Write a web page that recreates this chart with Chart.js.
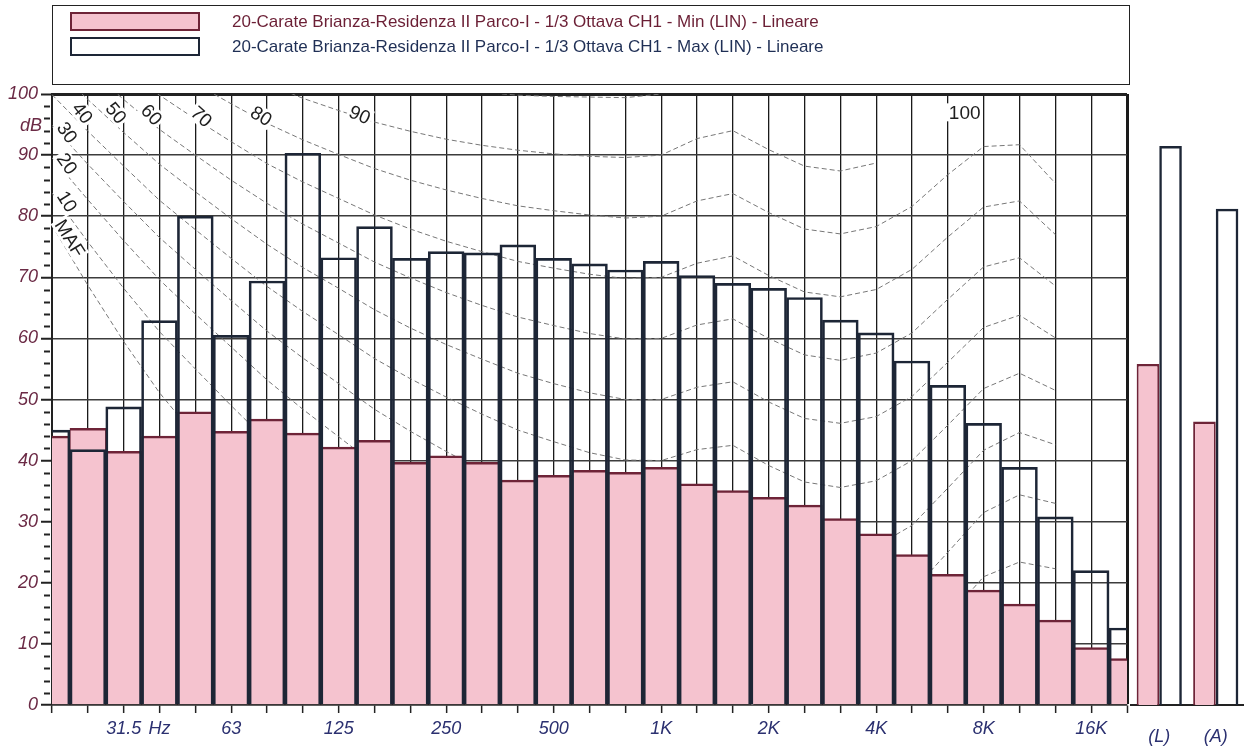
<!DOCTYPE html>
<html>
<head>
<meta charset="utf-8">
<script src="https://cdn.jsdelivr.net/npm/chart.js@4/dist/chart.umd.min.js"></script>
<style>
  html, body { margin: 0; padding: 0; background: #fff; }
  #wrap { position: relative; width: 1244px; height: 748px; overflow: hidden; }
  #main { position: absolute; left: 0; top: 0; }
  #side { position: absolute; left: 1127px; top: 0; }
  #legend {
    position: absolute; left: 52px; top: 5px; width: 1078px; height: 80px;
    border: 1.5px solid #222; box-sizing: border-box;
    font-family: "Liberation Sans", Arial, sans-serif; font-size: 17px;
  }
  .row { position: absolute; left: 17px; height: 19px; display: flex; align-items: center; white-space: nowrap; }
  .sw { width: 130px; height: 19px; box-sizing: border-box; margin-right: 32px; flex: none; }
</style>
</head>
<body>
<div id="wrap">
  <canvas id="main" width="1244" height="748"></canvas>
  <canvas id="side" width="117" height="748"></canvas>
  <div id="legend">
    <div class="row" style="top:6px;color:#6b1f35;">
      <div class="sw" style="background:#f5c3cf;border:2.5px solid #6e2438;"></div>
      <span>20-Carate Brianza-Residenza II Parco-I - 1/3 Ottava CH1 - Min (LIN) - Lineare</span>
    </div>
    <div class="row" style="top:31px;color:#1f2f55;">
      <div class="sw" style="background:#fff;border:2.5px solid #1d2636;"></div>
      <span>20-Carate Brianza-Residenza II Parco-I - 1/3 Ottava CH1 - Max (LIN) - Lineare</span>
    </div>
  </div>
</div>
<script>
// 1/3 octave bands, 20 Hz .. 20 kHz
const bands = ['20', '25', '31.5', '40', '50', '63', '80', '100', '125', '160', '200', '250', '315', '400', '500',
  '630', '800', '1K', '1.25K', '1.6K', '2K', '2.5K', '3.15K', '4K', '5K', '6.3K', '8K', '10K', '12.5K', '16K', '20K'];
const tickLabels = ['', '', '31.5', 'Hz', '', '63', '', '', '125', '', '', '250', '', '', '500',
  '', '', '1K', '', '', '2K', '', '', '4K', '', '', '8K', '', '', '16K', ''];

const minValues = [44.0, 45.3, 41.5, 44.0, 48.0, 44.8, 46.8, 44.5, 42.2, 43.3, 39.7, 40.8, 39.7, 36.8, 37.6,
  38.4, 38.1, 38.9, 36.2, 35.1, 34.0, 32.7, 30.5, 28.0, 24.6, 21.4, 18.8, 16.5, 13.9, 9.4, 7.6];
const maxValues = [45.0, 41.8, 48.8, 62.9, 80.0, 60.5, 69.4, 90.3, 73.2, 78.3, 73.1, 74.2, 74.0, 75.3, 73.1,
  72.2, 71.2, 72.6, 70.3, 69.0, 68.2, 66.7, 63.0, 60.9, 56.3, 52.3, 46.1, 38.9, 30.8, 22.0, 12.6];

// overall levels
const totalLabels = ['(L)', '(A)'];
const totalMin = [55.8, 46.4];
const totalMax = [91.5, 81.2];

// equal loudness contours (phon), dB per band
const contourMAF = [78.5, 68.7, 59.5, 51.1, 44.0, 37.5, 31.5, 26.5, 22.1, 17.9, 14.4, 11.4, 8.6, 6.2, 4.4,
  3.0, 2.2, 2.4, 3.5, 1.7, -1.3, -4.2, -6.0, -5.4, -1.5, 6.0, 12.6, 13.9, 12.3, null, null];
const contour10 = [83.8, 75.8, 68.2, 61.1, 55.0, 49.0, 43.2, 38.1, 33.5, 28.8, 24.8, 21.3, 18.1, 15.1, 13.0,
  11.2, 10.0, 10.0, 11.3, 10.4, 7.3, 4.5, 3.0, 3.8, 7.5, 14.4, 21.0, 23.4, 22.3, null, null];
const contour20 = [89.6, 82.7, 76.0, 69.6, 64.0, 58.6, 53.2, 48.4, 43.9, 39.4, 35.5, 32.0, 28.7, 25.7, 23.4,
  21.5, 20.1, 20.0, 21.5, 21.4, 18.2, 15.4, 14.3, 15.1, 18.6, 25.0, 31.5, 34.4, 33.0, null, null];
const contour30 = [94.9, 88.5, 82.4, 76.5, 71.3, 66.2, 61.2, 56.8, 52.6, 48.4, 44.8, 41.5, 38.4, 35.5, 33.4,
  31.5, 30.1, 30.0, 31.6, 32.0, 28.8, 26.0, 25.1, 26.0, 29.4, 35.5, 41.7, 44.6, 42.6, null, null];
const contour40 = [99.9, 93.9, 88.2, 82.6, 77.8, 73.1, 68.5, 64.4, 60.6, 56.7, 53.4, 50.4, 47.6, 45.0, 43.1,
  41.3, 40.1, 40.0, 41.8, 42.5, 39.2, 36.5, 35.6, 36.7, 40.0, 45.8, 51.8, 54.3, 51.5, null, null];
const contour50 = [104.7, 99.1, 93.7, 88.5, 84.0, 79.6, 75.4, 71.6, 68.2, 64.7, 61.7, 59.0, 56.6, 54.3, 52.6,
  51.1, 50.0, 50.0, 52.0, 52.9, 49.6, 46.9, 46.1, 47.2, 50.5, 56.1, 61.8, 63.8, 60.1, null, null];
const contour60 = [109.5, 104.2, 99.1, 94.2, 90.0, 85.9, 82.1, 78.7, 75.6, 72.5, 69.9, 67.5, 65.4, 63.5, 62.1,
  60.8, 59.9, 60.0, 62.2, 63.2, 60.0, 57.3, 56.4, 57.6, 60.9, 66.4, 71.7, 73.2, 68.6, null, null];
const contour70 = [114.3, 109.3, 104.4, 99.8, 95.9, 92.2, 88.6, 85.6, 82.9, 80.2, 77.9, 75.9, 74.2, 72.6, 71.5,
  70.5, 69.8, 70.0, 72.3, 73.5, 70.3, 67.6, 66.8, 68.0, 71.3, 76.6, 81.5, 82.5, 77.0, null, null];
const contour80 = [119.0, 114.2, 109.7, 105.3, 101.7, 98.4, 95.2, 92.5, 90.1, 87.8, 85.9, 84.3, 82.9, 81.7, 80.9,
  80.2, 79.7, 80.0, 82.5, 83.7, 80.6, 77.9, 77.1, 78.3, 81.6, 86.8, 91.4, 91.7, 85.4, null, null];
const contour90 = [123.7, 119.2, 114.9, 110.9, 107.6, 104.5, 101.7, 99.3, 97.3, 95.4, 93.9, 92.6, 91.6, 90.8, 90.2,
  89.8, 89.6, 90.0, 92.7, 94.0, 90.9, 88.2, 87.4, 88.7, null, null, null, null, null, null, null];
const contour100 = [null, null, null, null, null, null, null, null, null, null, null, 101.0, 100.3, 99.8, 99.6,
  99.5, 99.4, 100.0, null, null, null, null, null, null, null, null, null, null, null, null, null];

const contours = [contourMAF, contour10, contour20, contour30, contour40, contour50,
  contour60, contour70, contour80, contour90, contour100];

// labels written along the contours
const contourTags = [
  { text: '40', at: 0.85, db: 96.9, angle: 52 },
  { text: '50', at: 1.79, db: 96.9, angle: 50 },
  { text: '60', at: 2.78, db: 96.6, angle: 47 },
  { text: '70', at: 4.17, db: 96.3, angle: 42 },
  { text: '80', at: 5.84, db: 96.4, angle: 32 },
  { text: '90', at: 8.59, db: 96.6, angle: 24 },
  { text: '30', at: 0.42, db: 93.7, angle: 55 },
  { text: '20', at: 0.42, db: 88.6, angle: 55 },
  { text: '10', at: 0.42, db: 82.4, angle: 58 },
  { text: 'MAF', at: 0.5, db: 76.4, angle: 58 },
  { text: '100', at: 25.47, db: 97.0, angle: 0 }
];

const FONT = '"Liberation Sans", Arial, sans-serif';
const PINK = '#f5c3cf';
const MAROON = '#6e2438';
const NAVY_LINE = '#1d2636';
const TICK_NAVY = '#2b3070';
const TICK_MAROON = '#6b2a45';

const contourSets = contours.map(c => ({
  type: 'line',
  data: c,
  borderColor: '#777',
  borderWidth: 1,
  borderDash: [5, 3],
  pointRadius: 0,
  tension: 0,
  fill: false,
  clip: 0,
  order: 2
}));

const contourLabelPlugin = {
  id: 'contourLabels',
  afterDatasetsDraw(chart) {
    const { ctx, scales: { x, y } } = chart;
    ctx.save();
    ctx.font = '19px ' + FONT;
    ctx.textAlign = 'center';
    ctx.textBaseline = 'middle';
    contourTags.forEach(t => {
      const px = x.getPixelForValue(t.at);
      const py = y.getPixelForValue(t.db);
      ctx.save();
      ctx.translate(px, py);
      ctx.rotate(t.angle * Math.PI / 180);
      const w = ctx.measureText(t.text).width;
      ctx.fillStyle = '#fff';
      ctx.fillRect(-w / 2 - 2, -9, w + 4, 18);
      ctx.fillStyle = '#1e1e1e';
      ctx.fillText(t.text, 0, 1);
      ctx.restore();
    });
    ctx.restore();
  },
  afterDraw(chart) {
    const { ctx, chartArea, scales: { y } } = chart;
    ctx.save();
    // minor ticks every 2 dB
    ctx.strokeStyle = '#222';
    ctx.lineWidth = 2;
    y.ticks.forEach(t => {
      if (t.value % 10 === 0) return;
      const py = Math.round(y.getPixelForValue(t.value)) + 0.5;
      ctx.beginPath();
      ctx.moveTo(chartArea.left - 8, py);
      ctx.lineTo(chartArea.left - 2, py);
      ctx.stroke();
    });
    ctx.font = 'italic 18px ' + FONT;
    ctx.fillStyle = TICK_MAROON;
    ctx.textAlign = 'right';
    ctx.textBaseline = 'middle';
    ctx.fillText('dB', chartArea.left - 10, y.getPixelForValue(94.8));
    ctx.restore();
  }
};

new Chart(document.getElementById('main'), {
  type: 'bar',
  data: {
    labels: bands,
    datasets: [
      {
        label: 'Max',
        data: maxValues,
        backgroundColor: 'rgba(255,255,255,0)',
        borderColor: NAVY_LINE,
        borderWidth: 2,
        grouped: false,
        barPercentage: 1,
        categoryPercentage: 1,
        clip: 0,
        order: 0
      },
      {
        label: 'Min',
        data: minValues,
        backgroundColor: PINK,
        borderColor: MAROON,
        borderWidth: { top: 2.5, left: 1, right: 1, bottom: 0 },
        grouped: false,
        barPercentage: 1,
        categoryPercentage: 1,
        clip: 0,
        order: 1
      },
      ...contourSets
    ]
  },
  options: {
    responsive: false,
    animation: false,
    devicePixelRatio: 1,
    layout: { padding: { top: 94, right: 117, left: 0, bottom: 0 } },
    plugins: {
      legend: { display: false },
      tooltip: { enabled: false }
    },
    scales: {
      x: {
        type: 'category',
        offset: false,
        afterFit: s => { s.height = 43; },
        grid: {
          offset: false,
          color: '#1a1a1a',
          lineWidth: c => (c.index === bands.length - 1 ? 3 : 1.3),
          tickColor: '#222',
          tickLength: 8,
          tickWidth: 1.5
        },
        border: { display: true, color: '#222', width: 1.5 },
        ticks: {
          autoSkip: false,
          maxRotation: 0,
          padding: 5,
          color: TICK_NAVY,
          font: { family: FONT, size: 18, style: 'italic' },
          callback: (v, i) => tickLabels[i]
        }
      },
      y: {
        min: 0,
        max: 100,
        afterFit: s => { s.width = 52; },
        grid: {
          color: c => (c.tick.value % 10 === 0 ? (c.tick.value === 100 ? '#222' : '#3c3c3c') : 'rgba(0,0,0,0)'),
          lineWidth: c => (c.tick.value === 100 ? 3 : 1.5),
          tickColor: c => (c.tick.value % 10 === 0 ? '#222' : 'rgba(0,0,0,0)'),
          tickLength: 11,
          tickWidth: 2
        },
        border: { display: true, color: '#222', width: 2 },
        ticks: {
          stepSize: 2,
          autoSkip: false,
          padding: 3,
          color: TICK_MAROON,
          font: { family: FONT, size: 18, style: 'italic' },
          callback: v => (v % 10 === 0 ? v : '')
        }
      }
    }
  },
  plugins: [contourLabelPlugin]
});

new Chart(document.getElementById('side'), {
  type: 'bar',
  data: {
    labels: totalLabels,
    datasets: [
      {
        label: 'Min',
        data: totalMin,
        backgroundColor: PINK,
        borderColor: MAROON,
        borderWidth: { top: 2.5, left: 2, right: 2, bottom: 0 },
        barPercentage: 1,
        categoryPercentage: 0.8
      },
      {
        label: 'Max',
        data: totalMax,
        backgroundColor: 'rgba(255,255,255,0)',
        borderColor: NAVY_LINE,
        borderWidth: 2.5,
        barPercentage: 1,
        categoryPercentage: 0.8
      }
    ]
  },
  options: {
    responsive: false,
    animation: false,
    devicePixelRatio: 1,
    layout: { padding: { top: 94, left: 4, right: 0, bottom: 0 } },
    plugins: {
      legend: { display: false },
      tooltip: { enabled: false }
    },
    scales: {
      x: {
        offset: true,
        afterFit: s => { s.height = 43; },
        grid: { display: false },
        border: { display: true, color: '#222', width: 2 },
        ticks: {
          padding: 13,
          color: TICK_NAVY,
          font: { family: FONT, size: 18, style: 'italic' }
        }
      },
      y: { display: false, min: 0, max: 100 }
    }
  }
});
</script>
</body>
</html>
